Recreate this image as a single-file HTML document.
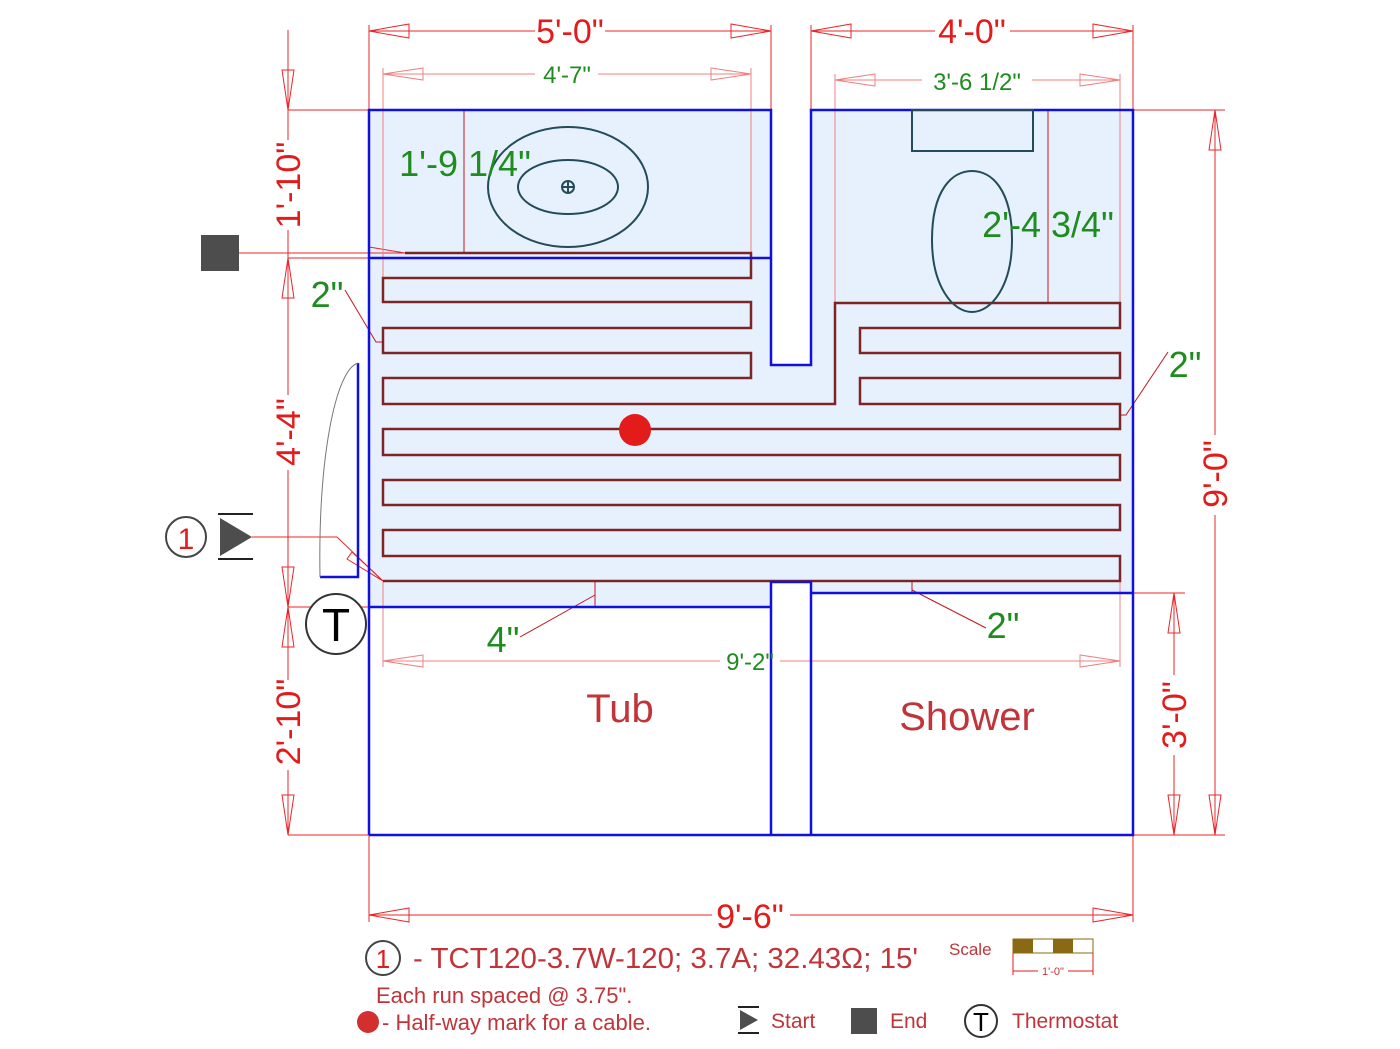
<!DOCTYPE html>
<html><head><meta charset="utf-8"><style>
html,body{margin:0;padding:0;background:#fff;}
svg{display:block;font-family:"Liberation Sans",sans-serif;}
</style></head><body>
<svg width="1400" height="1049" viewBox="0 0 1400 1049" xmlns="http://www.w3.org/2000/svg">
<polygon points="369,110 771,110 771,365 811,365 811,110 1133,110 1133,593 811,593 811,582 771,582 771,607 369,607" fill="#e6f1fd"/>

<g stroke="#e8262a" stroke-width="1" fill="none">
 <line x1="369" y1="25" x2="369" y2="110"/><line x1="771" y1="25" x2="771" y2="110"/>
 <line x1="811" y1="25" x2="811" y2="110"/><line x1="1133" y1="25" x2="1133" y2="110"/>
 <line x1="369" y1="31" x2="535" y2="31"/><line x1="605" y1="31" x2="771" y2="31"/>
 <line x1="811" y1="31" x2="935" y2="31"/><line x1="1010" y1="31" x2="1133" y2="31"/>
 <polygon points="369,31 409,24 409,38"/><polygon points="771,31 731,24 731,38"/>
 <polygon points="811,31 851,24 851,38"/><polygon points="1133,31 1093,24 1093,38"/>
 <line x1="288" y1="30" x2="288" y2="140"/><line x1="288" y1="230" x2="288" y2="395"/>
 <line x1="288" y1="470" x2="288" y2="680"/><line x1="288" y1="770" x2="288" y2="835"/>
 <line x1="288" y1="110" x2="369" y2="110"/><line x1="288" y1="258" x2="369" y2="258"/>
 <line x1="288" y1="607" x2="369" y2="607"/><line x1="288" y1="835" x2="369" y2="835"/>
 <polygon points="288,110 282,70 294,70"/><polygon points="288,258 282,298 294,298"/>
 <polygon points="288,607 282,567 294,567"/><polygon points="288,607 282,647 294,647"/>
 <polygon points="288,835 282,795 294,795"/>
 <line x1="1133" y1="110" x2="1225" y2="110"/><line x1="1133" y1="835" x2="1225" y2="835"/>
 <line x1="1215" y1="110" x2="1215" y2="435"/><line x1="1215" y1="515" x2="1215" y2="835"/>
 <polygon points="1215,110 1209,150 1221,150"/><polygon points="1215,835 1209,795 1221,795"/>
 <line x1="1133" y1="593" x2="1185" y2="593"/>
 <line x1="1174" y1="593" x2="1174" y2="675"/><line x1="1174" y1="755" x2="1174" y2="835"/>
 <polygon points="1174,593 1168,633 1180,633"/><polygon points="1174,835 1168,795 1180,795"/>
 <line x1="369" y1="835" x2="369" y2="922"/><line x1="1133" y1="835" x2="1133" y2="922"/>
 <line x1="369" y1="915" x2="712" y2="915"/><line x1="790" y1="915" x2="1133" y2="915"/>
 <polygon points="369,915 409,908 409,922"/><polygon points="1133,915 1093,908 1093,922"/>
 <line x1="239" y1="253" x2="405" y2="253"/><polygon points="405,253 369,247 369,253"/>
 <polyline points="252,537 337,537 383,581"/>
 <polygon points="383,581 352,552 347,559"/>
</g>
<g stroke="#f08080" stroke-width="1" fill="none">
 <line x1="383" y1="74" x2="535" y2="74"/><line x1="598" y1="74" x2="751" y2="74"/>
 <polygon points="383,74 423,68 423,80"/><polygon points="751,74 711,68 711,80"/>
 <line x1="383" y1="68" x2="383" y2="278"/><line x1="751" y1="68" x2="751" y2="253"/>
 <line x1="835" y1="80" x2="922" y2="80"/><line x1="1032" y1="80" x2="1120" y2="80"/>
 <polygon points="835,80 875,74 875,86"/><polygon points="1120,80 1080,74 1080,86"/>
 <line x1="835" y1="74" x2="835" y2="303"/><line x1="1120" y1="74" x2="1120" y2="303"/>
 <line x1="383" y1="661" x2="720" y2="661"/><line x1="780" y1="661" x2="1120" y2="661"/>
 <polygon points="383,661 423,655 423,667"/><polygon points="1120,661 1080,655 1080,667"/>
 <line x1="383" y1="581" x2="383" y2="667"/><line x1="1120" y1="581" x2="1120" y2="667"/>
</g>
<g stroke="#c0181c" stroke-width="1" fill="none">
 <line x1="464" y1="110" x2="464" y2="253"/><line x1="1048" y1="110" x2="1048" y2="303"/>
 <polyline points="345,290 376,342 383,342"/>
 <polyline points="1168,352 1126,415 1120,415"/>
 <polyline points="520,637 595,595"/><line x1="595" y1="581" x2="595" y2="607"/>
 <polyline points="986,628 912,590"/><line x1="912" y1="581" x2="912" y2="593"/>
</g>

<polyline fill="none" stroke="#7d2525" stroke-width="2.5" points="405,253 751,253 751,278 383,278 383,302 751,302 751,328 383,328 383,353 751,353 751,378 383,378 383,404 835,404 835,303 1120,303 1120,328 860,328 860,353 1120,353 1120,378 860,378 860,404 1120,404 1120,429 383,429 383,455 1120,455 1120,480 383,480 383,505 1120,505 1120,530 383,530 383,556 1120,556 1120,581 383,581"/>

<g stroke="#1010e0" stroke-width="2.5" fill="none">
 <polyline points="369,835 369,110 771,110 771,365 811,365 811,110 1133,110 1133,835 369,835"/>
 <line x1="369" y1="258" x2="771" y2="258"/>
 <line x1="369" y1="607" x2="771" y2="607"/>
 <line x1="811" y1="593" x2="1133" y2="593"/>
 <polyline points="771,835 771,582 811,582 811,835"/>
 <polyline points="358,363 358,577 320,577"/>
</g>
<path d="M358,363 C335,370 318,460 320,577" stroke="#777" stroke-width="1" fill="none"/>

<g stroke="#234c58" stroke-width="2" fill="none">
 <ellipse cx="568" cy="187" rx="80" ry="60"/>
 <ellipse cx="568" cy="187" rx="50" ry="27"/>
 <circle cx="568" cy="187" r="6"/><line x1="562" y1="187" x2="574" y2="187"/><line x1="568" y1="181" x2="568" y2="193"/>
 <rect x="912" y="110" width="121" height="41"/>
 <path d="M972,171 C952,171 932,190 932,240 C932,285 952,312 972,312 C992,312 1012,285 1012,240 C1012,190 992,171 972,171 Z"/>
</g>

<circle cx="635" cy="430" r="16" fill="#e31b1b"/>

<rect x="201" y="235" width="38" height="36" fill="#4d4d4d"/>
<circle cx="186" cy="537" r="20" fill="none" stroke="#444" stroke-width="2"/>
<text x="186" y="549" font-size="30" fill="#e31b1b" text-anchor="middle">1</text>
<polygon points="220,518 252,537 220,556" fill="#4d4d4d"/>
<line x1="218" y1="514" x2="253" y2="514" stroke="#222" stroke-width="2"/>
<line x1="218" y1="559" x2="253" y2="559" stroke="#222" stroke-width="2"/>
<circle cx="336" cy="624" r="30" fill="#fff" stroke="#333" stroke-width="2"/>
<text x="336" y="641" font-size="46" fill="#000" text-anchor="middle">T</text>

<g fill="#e31b1b" font-size="34" text-anchor="middle">
 <text x="570" y="43">5'-0"</text>
 <text x="972" y="43">4'-0"</text>
 <text x="750" y="928">9'-6"</text>
 <text transform="translate(300,185) rotate(-90)">1'-10"</text>
 <text transform="translate(300,432) rotate(-90)">4'-4"</text>
 <text transform="translate(300,722) rotate(-90)">2'-10"</text>
 <text transform="translate(1227,474) rotate(-90)">9'-0"</text>
 <text transform="translate(1186,715) rotate(-90)">3'-0"</text>
</g>
<g fill="#1e8c1e" text-anchor="middle">
 <text x="567" y="83" font-size="24">4'-7"</text>
 <text x="977" y="90" font-size="24">3'-6 1/2"</text>
 <text x="750" y="670" font-size="24">9'-2"</text>
 <text x="465" y="176" font-size="36">1'-9 1/4"</text>
 <text x="1048" y="237" font-size="36">2'-4 3/4"</text>
 <text x="327" y="307" font-size="36">2"</text>
 <text x="1185" y="377" font-size="36">2"</text>
 <text x="503" y="652" font-size="36">4"</text>
 <text x="1003" y="638" font-size="36">2"</text>
</g>
<g fill="#c0343a" text-anchor="middle" font-size="40">
 <text x="620" y="722">Tub</text>
 <text x="967" y="730">Shower</text>
</g>

<circle cx="383" cy="958" r="17" fill="none" stroke="#444" stroke-width="2"/>
<text x="383" y="968" font-size="26" fill="#e31b1b" text-anchor="middle">1</text>
<g fill="#c0343a">
 <text x="413" y="968" font-size="29" textLength="505" lengthAdjust="spacingAndGlyphs">- TCT120-3.7W-120; 3.7A; 32.43Ω; 15'</text>
 <text x="376" y="1003" font-size="22">Each run spaced @ 3.75".</text>
 <text x="382" y="1030" font-size="22">- Half-way mark for a cable.</text>
 <text x="771" y="1028" font-size="21">Start</text>
 <text x="890" y="1028" font-size="21">End</text>
 <text x="1012" y="1028" font-size="21">Thermostat</text>
 <text x="949" y="955" font-size="17">Scale</text>
</g>
<circle cx="368" cy="1022" r="11" fill="#d32f2f"/>
<polygon points="740,1010 758,1020 740,1030" fill="#4d4d4d"/>
<line x1="738" y1="1007" x2="759" y2="1007" stroke="#222" stroke-width="2"/>
<line x1="738" y1="1033" x2="759" y2="1033" stroke="#222" stroke-width="2"/>
<rect x="851" y="1008" width="26" height="26" fill="#4d4d4d"/>
<circle cx="981" cy="1021" r="16" fill="none" stroke="#333" stroke-width="2"/>
<text x="981" y="1031" font-size="26" fill="#000" text-anchor="middle">T</text>
<g>
 <rect x="1013" y="939" width="80" height="14" fill="#fff" stroke="#8b6914" stroke-width="1"/>
 <rect x="1013" y="939" width="20" height="14" fill="#8b6914"/>
 <rect x="1053" y="939" width="20" height="14" fill="#8b6914"/>
 <line x1="1013" y1="953" x2="1013" y2="975" stroke="#e31b1b"/>
 <line x1="1093" y1="953" x2="1093" y2="975" stroke="#e31b1b"/>
 <line x1="1013" y1="971" x2="1038" y2="971" stroke="#e31b1b"/>
 <line x1="1068" y1="971" x2="1093" y2="971" stroke="#e31b1b"/>
 <text x="1053" y="975" font-size="11" fill="#c0343a" text-anchor="middle">1'-0"</text>
</g>
</svg>
</body></html>
